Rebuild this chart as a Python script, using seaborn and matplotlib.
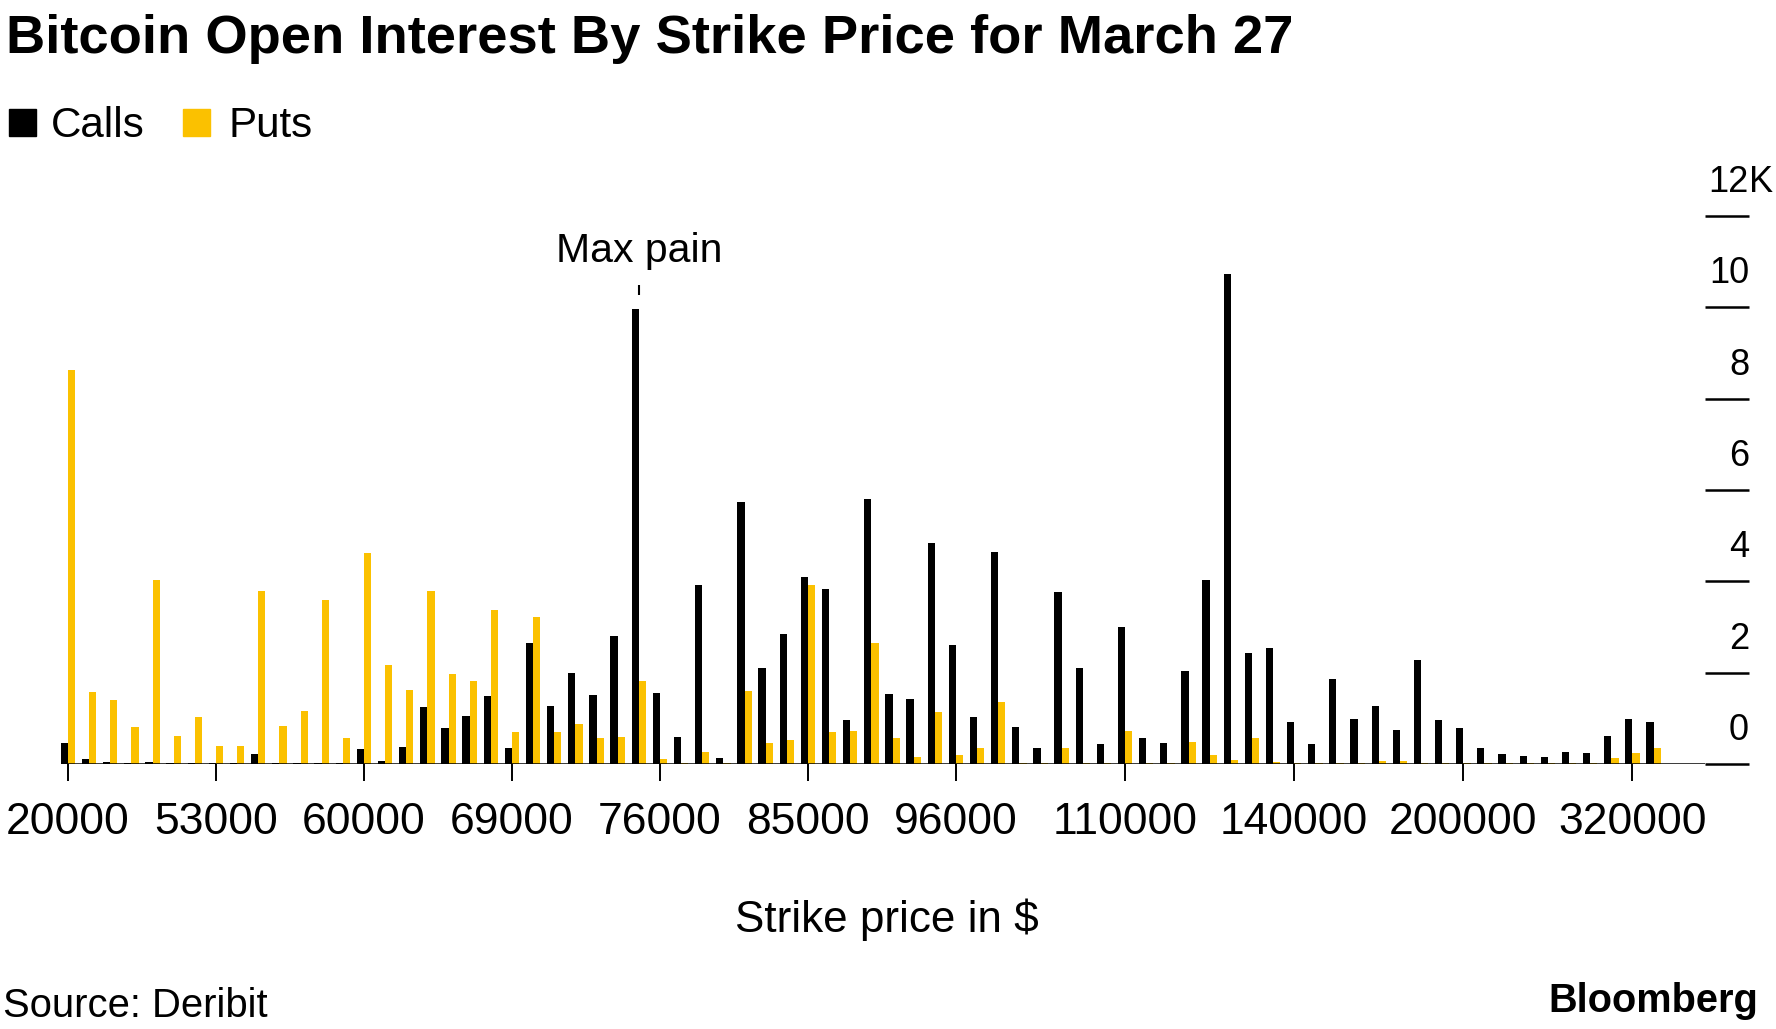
import pandas as pd
import matplotlib.pyplot as plt
import seaborn as sns

# Strike prices (76 categories, only every 7th/8th one is labelled)
strikes = [20000, 25000, 30000, 35000, 40000, 45000, 50000,
           53000, 54000, 55000, 56000, 57000, 58000, 59000,
           60000, 62000, 63000, 64000, 65000, 66000, 68000,
           69000, 70000, 71000, 72000, 73000, 74000, 75000,
           76000, 77000, 78000, 79000, 80000, 82000, 84000,
           85000, 86000, 88000, 90000, 92000, 94000, 95000,
           96000, 98000, 100000, 102000, 104000, 105000, 106000, 108000,
           110000, 112000, 115000, 118000, 120000, 125000, 130000, 135000,
           140000, 145000, 150000, 160000, 170000, 175000, 180000, 190000,
           200000, 210000, 220000, 240000, 250000, 260000, 280000, 300000,
           320000, 340000]

# Open interest in thousands of contracts
calls = [0.46, 0.11, 0.04, 0.02, 0.04, 0.02, 0.02,
         0.02, 0.02, 0.22, 0.02, 0.02, 0.02, 0.02,
         0.32, 0.07, 0.37, 1.24, 0.78, 1.06, 1.50,
         0.36, 2.66, 1.26, 2.00, 1.52, 2.81, 9.96,
         1.55, 0.59, 3.93, 0.14, 5.73, 2.11, 2.84,
         4.09, 3.84, 0.96, 5.81, 1.53, 1.43, 4.85,
         2.61, 1.04, 4.65, 0.81, 0.36, 3.77, 2.11, 0.44,
         2.99, 0.58, 0.46, 2.03, 4.04, 10.73, 2.44, 2.53,
         0.92, 0.43, 1.87, 0.99, 1.26, 0.74, 2.27, 0.96,
         0.78, 0.36, 0.22, 0.18, 0.16, 0.26, 0.25, 0.62,
         0.98, 0.93]

puts = [8.63, 1.57, 1.41, 0.81, 4.03, 0.62, 1.03,
        0.39, 0.40, 3.78, 0.84, 1.17, 3.60, 0.56,
        4.61, 2.16, 1.61, 3.78, 1.96, 1.82, 3.37,
        0.69, 3.21, 0.70, 0.87, 0.58, 0.60, 1.81,
        0.10, 0.03, 0.27, 0.02, 1.59, 0.46, 0.53,
        3.91, 0.71, 0.73, 2.64, 0.57, 0.16, 1.13,
        0.19, 0.35, 1.35, 0.03, 0.03, 0.36, 0.02, 0.02,
        0.72, 0.02, 0.02, 0.49, 0.19, 0.09, 0.57, 0.05,
        0.02, 0.02, 0.03, 0.02, 0.06, 0.06, 0.02, 0.02,
        0.02, 0.02, 0.02, 0.02, 0.02, 0.02, 0.02, 0.14,
        0.24, 0.36]

tick_strikes = [20000, 53000, 60000, 69000, 76000, 85000, 96000,
                110000, 140000, 200000, 320000]
y_ticks = [0, 2, 4, 6, 8, 10, 12]
max_pain = 75000

YELLOW = '#fbc100'
W, H = 1776, 1029


def fx(x):
    return x / W


def fy(y):
    return 1 - y / H


sns.set_style('white')
plt.rcParams['font.family'] = ['Liberation Sans', 'DejaVu Sans']
plt.rcParams['text.color'] = 'black'
plt.rcParams['xtick.color'] = 'black'
plt.rcParams['ytick.color'] = 'black'
plt.rcParams['axes.labelcolor'] = 'black'

fig = plt.figure(figsize=(W / 100, H / 100), dpi=100)
ax = fig.add_axes([fx(61), fy(764), (1705 - 61) / W, (764 - 216) / H])

n = len(strikes)
df = pd.DataFrame({
    'Strike': [str(s) for s in strikes] * 2,
    'Type': ['Calls'] * n + ['Puts'] * n,
    'OI': calls + puts,
})

sns.barplot(data=df, x='Strike', y='OI', hue='Type',
            order=[str(s) for s in strikes], hue_order=['Calls', 'Puts'],
            palette={'Calls': 'black', 'Puts': YELLOW},
            width=0.68, saturation=1, errorbar=None, legend=False,
            linewidth=0, ax=ax)

ax.set_xlim(-0.33, 77.43)
ax.set_ylim(0, 12)
for s in ax.spines.values():
    s.set_visible(False)
ax.axhline(0, color='black', lw=1.8, zorder=3)

# x axis ticks
ax.set_xticks([strikes.index(s) for s in tick_strikes])
ax.set_xticklabels([str(s) for s in tick_strikes])
ax.tick_params(axis='x', bottom=True, direction='out', length=12.2,
               width=1.4, color='black', labelcolor='black', pad=15,
               labelsize=32)
ax.set_xlabel('')
ax.set_ylabel('')

# y axis: ticks on the right, labels sit above each tick
ax.yaxis.tick_right()
ax.set_yticks(y_ticks)
ax.set_yticklabels([])
ax.tick_params(axis='y', left=False, right=True, direction='out',
               length=31.7, width=1.8, color='black')
for v in y_ticks:
    ax.annotate(str(v), xy=(1, v), xycoords=('axes fraction', 'data'),
                xytext=(31.7, 17.3), textcoords='offset points',
                ha='right', va='baseline', fontsize=26, color='black')
ax.annotate('K', xy=(1, y_ticks[-1]), xycoords=('axes fraction', 'data'),
            xytext=(31.7, 17.3), textcoords='offset points',
            ha='left', va='baseline', fontsize=26, color='black')

# max pain marker
mp = strikes.index(max_pain)
ax.vlines(mp, 10.27, 10.49, color='black', lw=1.5)
ax.text(mp, 10.99, 'Max pain', ha='center', va='baseline', fontsize=29.5,
        color='black')

# title, legend, labels
fig.text(fx(6), fy(53), 'Bitcoin Open Interest By Strike Price for March 27',
         fontsize=39.2, fontweight='bold', ha='left', va='baseline',
         color='black')

fig.patches.append(plt.Rectangle((fx(9), fy(136)), 27 / W, 27 / H,
                                 color='black', transform=fig.transFigure))
fig.text(fx(51), fy(137), 'Calls', fontsize=30.3, ha='left', va='baseline')
fig.patches.append(plt.Rectangle((fx(183), fy(136)), 27 / W, 27 / H,
                                 color=YELLOW, transform=fig.transFigure))
fig.text(fx(229), fy(137), 'Puts', fontsize=30.3, ha='left', va='baseline')

fig.text(fx(887), fy(932), 'Strike price in $', fontsize=31.7,
         ha='center', va='baseline')
fig.text(fx(3), fy(1017), 'Source: Deribit', fontsize=28.8,
         ha='left', va='baseline')
fig.text(fx(1758), fy(1012), 'Bloomberg', fontsize=28.6, fontweight='bold',
         ha='right', va='baseline')

fig.savefig('out.png', dpi=100)
